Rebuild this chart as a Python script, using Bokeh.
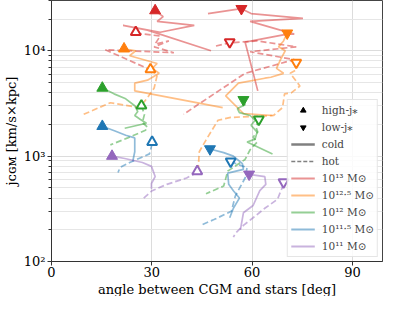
import numpy as np
from bokeh.plotting import figure
from bokeh.models import (Range1d, FixedTicker, Legend, LegendItem, Title,
                          CustomJSTickFormatter)
from bokeh.embed import file_html
from bokeh.resources import INLINE

FONT = "DejaVu Serif"

mass_labels = ["10¹³ M⊙", "10¹²·⁵ M⊙", "10¹² M⊙", "10¹¹·⁵ M⊙", "10¹¹ M⊙"]
mass_colors = ["#d62728", "#ff7f0e", "#2ca02c", "#1f77b4", "#9467bd"]

# ---- tracks: angle between CGM and stars [deg], j_CGM [km/s x kpc] ----
m13_cold_hi_ang = [31.0, 33.4, 31.6, 42.7, 32.5, 21.4, 28.7, 47.7]
m13_cold_hi_j = [24050, 21100, 19000, 17450, 15000, 17450, 15700, 10000]
m13_cold_lo_ang = [46.8, 56.8, 59.7, 75.2, 59.4, 72.6, 70.5, 57.9, 61.7]
m13_cold_lo_j = [22560, 25100, 22560, 20300, 19000, 14400, 14400, 12100, 4160]
m13_hot_hi_ang = [25.2, 32.5, 31.0, 35.1, 30.7, 36.6, 16.1, 29.3]
m13_hot_hi_j = [14700, 13800, 11600, 12400, 10900, 9580, 10220, 6660]
m13_hot_lo_ang = [49.2, 53.3, 61.5, 73.2, 59.4, 72.6, 57.9, 43.3, 39.5]
m13_hot_lo_j = [11100, 11900, 12400, 10900, 9790, 8240, 6110, 3010, 2490]

m125_cold_hi_ang = [21.7, 25.2, 23.4, 31.6, 30.1, 32.2, 28.7, 24.9, 24.9, 51.2]
m125_cold_hi_j = [10440, 10000, 8980, 7570, 6800, 6110, 5260, 4930, 4160, 2890]
m125_cold_lo_ang = [70.5, 69.4, 67.9, 69.9, 68.5, 67.3, 69.4, 65.6, 63.8, 55.9, 52.1, 57.4, 66.1]
m125_cold_lo_j = [14700, 12400, 10900, 10000, 8240, 6800, 6110, 5610, 5490, 4930, 3730, 2540, 2430]
m125_hot_hi_ang = [29.6, 31.6, 30.7, 28.7, 26.3, 17.6, 8.8]
m125_hot_hi_j = [6660, 5850, 4430, 3580, 2890, 3210, 2430]
m125_hot_lo_ang = [73.2, 72.9, 71.4, 74.3, 71.7, 69.7, 69.1, 66.4, 53.6, 49.8, 46.2, 44.2, 43.9]
m125_hot_lo_j = [7900, 6520, 6110, 4630, 3980, 3900, 2890, 2430, 2330, 2190, 1420, 1100, 770]

m12_cold_hi_ang = [15.2, 18.7, 22.2, 24.9, 25.8, 24.9, 26.6, 28.4, 21.9]
m12_cold_hi_j = [4430, 3900, 3500, 3010, 2650, 2430, 2230, 2050, 1840]
m12_cold_lo_ang = [57.4, 57.9, 55.6, 56.2, 59.4, 60.9, 59.7, 61.5, 60.9, 58.5, 66.1]
m12_cold_lo_j = [3430, 3080, 2830, 2590, 2430, 2190, 1960, 1690, 1450, 1360, 1050]
m12_hot_hi_ang = [26.9, 27.8, 27.2, 28.7, 28.1, 22.8, 17.6]
m12_hot_hi_j = [3010, 2490, 2090, 1880, 1760, 1490, 1280]
m12_hot_lo_ang = [62.0, 61.2, 61.7, 60.3, 61.5, 59.4, 57.9, 52.7, 51.5, 46.2]
m12_hot_lo_j = [2230, 1880, 1690, 1520, 1360, 1150, 930, 720, 520, 440]

m115_cold_hi_ang = [15.2, 19.0, 22.2, 24.9, 24.9, 24.3]
m115_cold_hi_j = [1920, 1730, 1580, 1490, 1100, 890]
m115_cold_lo_ang = [47.4, 51.5, 54.4, 57.1, 57.4, 52.7, 53.0, 54.4, 56.2, 54.4, 53.3]
m115_cold_lo_j = [1170, 1080, 1000, 850, 750, 690, 540, 470, 400, 320, 260]
m115_hot_hi_ang = [30.1, 29.3, 23.4, 20.5, 19.9]
m115_hot_hi_j = [1310, 1050, 870, 780, 700]
m115_hot_lo_ang = [53.6, 55.9, 58.5, 57.9, 55.0, 53.8, 48.6, 44.5]
m115_hot_lo_j = [890, 830, 780, 620, 420, 300, 250, 220]

m11_cold_hi_ang = [18.1, 21.9, 27.2, 29.9, 31.0, 29.9, 29.9]
m11_cold_hi_j = [1000, 950, 870, 800, 640, 550, 490]
m11_cold_lo_ang = [59.1, 63.8, 64.1, 62.3, 60.3, 57.4, 56.5]
m11_cold_lo_j = [670, 640, 540, 470, 340, 290, 200]
m11_hot_hi_ang = [43.6, 40.4, 34.5, 30.1, 27.2]
m11_hot_hi_j = [700, 620, 540, 470, 390]
m11_hot_lo_ang = [69.4, 67.6, 63.8, 60.3, 57.4, 55.0, 54.4]
m11_hot_lo_j = [540, 390, 320, 260, 220, 185, 170]

# ---- markers (one per mass: 1e13, 1e12.5, 1e12, 1e11.5, 1e11) ----
hi_cold_ang = [31.0, 21.7, 15.2, 15.2, 18.1]
hi_cold_j = [24050, 10440, 4430, 1920, 1000]
hi_hot_ang = [25.2, 29.6, 26.9, 30.1, 43.6]
hi_hot_j = [15000, 6650, 3010, 1360, 718]
lo_cold_ang = [56.8, 70.5, 57.4, 47.4, 59.1]
lo_cold_j = [25100, 14700, 3430, 1170, 673]
lo_hot_ang = [53.3, 73.2, 62.0, 53.6, 69.4]
lo_hot_j = [12100, 7730, 2230, 890, 566]

y_major = [100, 1000, 10000]
y_minor = [k * 10 ** e for e in (2, 3) for k in range(2, 10)] + [20000, 30000]
x_ticks = [0, 30, 60, 90]

X0, X1 = 0, 99
Y0, Y1 = 100, 30000

p = figure(width=383, height=296, x_range=Range1d(X0, X1), y_range=Range1d(Y0, Y1),
           y_axis_type="log", output_backend="svg", toolbar_location=None,
           min_border_left=0, min_border_right=1, min_border_top=0,
           min_border_bottom=0)
p.background_fill_color = "white"
p.border_fill_color = "white"
p.outline_line_color = "#444444"
p.outline_line_width = 1

tracks = [
    [(m13_cold_hi_ang, m13_cold_hi_j, "solid"), (m13_cold_lo_ang, m13_cold_lo_j, "solid"),
     (m13_hot_hi_ang, m13_hot_hi_j, "dashed"), (m13_hot_lo_ang, m13_hot_lo_j, "dashed")],
    [(m125_cold_hi_ang, m125_cold_hi_j, "solid"), (m125_cold_lo_ang, m125_cold_lo_j, "solid"),
     (m125_hot_hi_ang, m125_hot_hi_j, "dashed"), (m125_hot_lo_ang, m125_hot_lo_j, "dashed")],
    [(m12_cold_hi_ang, m12_cold_hi_j, "solid"), (m12_cold_lo_ang, m12_cold_lo_j, "solid"),
     (m12_hot_hi_ang, m12_hot_hi_j, "dashed"), (m12_hot_lo_ang, m12_hot_lo_j, "dashed")],
    [(m115_cold_hi_ang, m115_cold_hi_j, "solid"), (m115_cold_lo_ang, m115_cold_lo_j, "solid"),
     (m115_hot_hi_ang, m115_hot_hi_j, "dashed"), (m115_hot_lo_ang, m115_hot_lo_j, "dashed")],
    [(m11_cold_hi_ang, m11_cold_hi_j, "solid"), (m11_cold_lo_ang, m11_cold_lo_j, "solid"),
     (m11_hot_hi_ang, m11_hot_hi_j, "dashed"), (m11_hot_lo_ang, m11_hot_lo_j, "dashed")],
]

for color, group in zip(mass_colors, tracks):
    for xs, ys, style in group:
        p.line(xs, ys, line_color=color, line_alpha=0.5, line_width=1.7,
               line_dash=("6 3" if style == "dashed" else "solid"))

MS = 11
p.scatter(hi_cold_ang, hi_cold_j, marker="triangle", size=MS,
          fill_color=mass_colors, line_color=mass_colors)
p.scatter(lo_cold_ang, lo_cold_j, marker="inverted_triangle", size=MS,
          fill_color=mass_colors, line_color=mass_colors)
p.scatter(hi_hot_ang, hi_hot_j, marker="triangle", size=MS - 1,
          fill_color="white", line_color=mass_colors, line_width=2)
p.scatter(lo_hot_ang, lo_hot_j, marker="inverted_triangle", size=MS - 1,
          fill_color="white", line_color=mass_colors, line_width=2)

# axes
for ax in (p.xaxis[0], p.yaxis[0]):
    ax.axis_line_color = "#333333"
    ax.major_tick_line_color = "#333333"
    ax.minor_tick_line_color = "#333333"
    ax.major_tick_out = 4
    ax.major_tick_in = 0
    ax.minor_tick_in = 0
    ax.major_label_text_font = FONT
    ax.major_label_text_font_size = "13px"
    ax.major_label_text_color = "black"
    ax.major_label_text_line_height = 1.0
    ax.major_label_standoff = 2
    ax.axis_label_text_font = FONT
    ax.axis_label_text_font_size = "13px"
    ax.axis_label_text_font_style = "normal"
    ax.axis_label_text_color = "black"
    ax.axis_label_text_line_height = 1.0
    ax.axis_label_standoff = 2

p.xaxis.major_label_standoff = 1
p.yaxis.axis_label = "jᴄɢᴍ [km/s×kpc]"
p.xaxis.axis_label = None

p.add_layout(Title(text="angle between CGM and stars [deg]", align="center",
                   text_font=FONT, text_font_size="13px", text_font_style="normal",
                   text_color="black", standoff=0, offset=0, text_line_height=1.0),
             "below")

p.xaxis.ticker = FixedTicker(ticks=x_ticks, minor_ticks=[])
p.xaxis.minor_tick_out = 0
p.yaxis.ticker = FixedTicker(ticks=y_major, minor_ticks=y_minor)
p.yaxis.minor_tick_out = 3
p.yaxis.formatter = CustomJSTickFormatter(code="""
const e = Math.round(Math.log10(tick));
const sup = {'0':'⁰','1':'¹','2':'²','3':'³','4':'⁴','5':'⁵'};
return '10' + String(e).split('').map(c => sup[c]).join('');
""")

p.xgrid.grid_line_color = "#dcdcdc"
p.ygrid.grid_line_color = "#dcdcdc"
p.ygrid.minor_grid_line_color = "#e6e6e6"

# legend (proxy renderers placed outside the visible range)
off_x, off_y = [-50], [50]
r_hi = p.scatter(off_x, off_y, marker="triangle", size=10, color="black")
r_lo = p.scatter(off_x, off_y, marker="inverted_triangle", size=10, color="black")
r_cold = p.line(off_x * 2, off_y * 2, line_color="#808080", line_width=2.5)
r_hot = p.line(off_x * 2, off_y * 2, line_color="#808080", line_width=1.6, line_dash="4 2")
items = [LegendItem(label="high-j⁎", renderers=[r_hi]),
         LegendItem(label="low-j⁎", renderers=[r_lo]),
         LegendItem(label="cold", renderers=[r_cold]),
         LegendItem(label="hot", renderers=[r_hot])]
for lab, c in zip(mass_labels, mass_colors):
    r = p.line(off_x * 2, off_y * 2, line_color=c, line_alpha=0.5, line_width=2)
    items.append(LegendItem(label=lab, renderers=[r]))

legend = Legend(items=items, location="bottom_right", margin=4, padding=3,
                spacing=3, glyph_width=24, glyph_height=14, label_height=12,
                label_standoff=7, label_text_font=FONT, label_text_font_size="10.5px",
                border_line_color="#cccccc", border_line_width=1,
                background_fill_color="white", background_fill_alpha=0.85)
p.add_layout(legend)

open("out.html", "w").write(file_html(p, INLINE))
